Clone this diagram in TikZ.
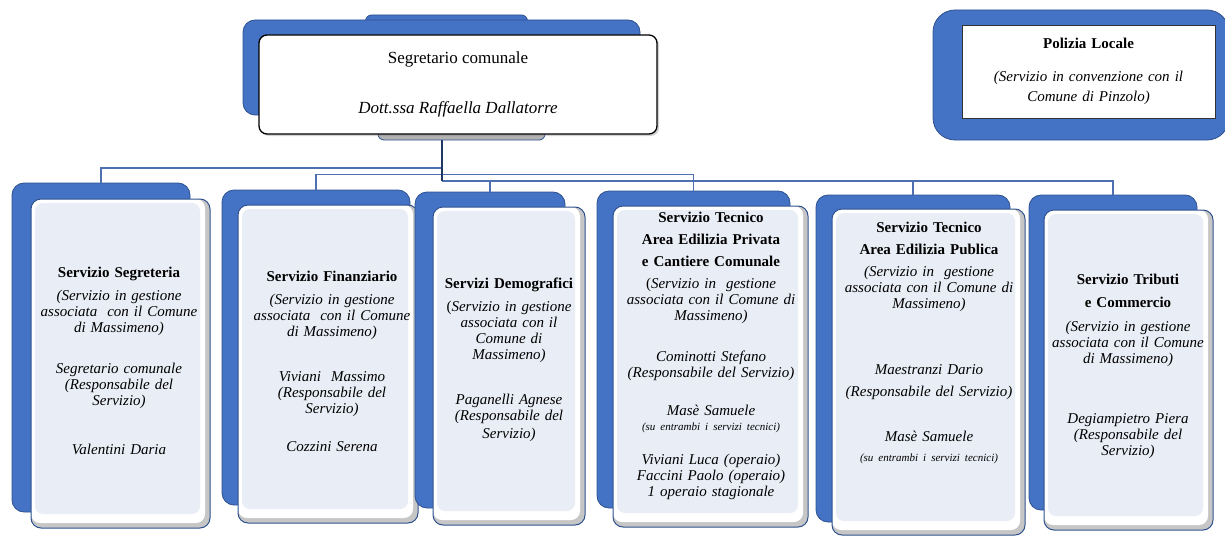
\documentclass[tikz,border=0pt]{standalone}
\usepackage{fontspec}
\setmainfont{Liberation Serif}
\usetikzlibrary{positioning,shadows}

\definecolor{ufficioblu}{HTML}{4472C4}
\definecolor{bordoblu}{HTML}{2F528F}
\definecolor{fondochiaro}{HTML}{E9EDF5}
\definecolor{lineablu}{HTML}{4E70B0}
\definecolor{lineascura}{HTML}{203864}

\begin{document}
\begin{tikzpicture}[x=1pt,y=-1pt,
  retro/.style={rectangle, draw=bordoblu, fill=ufficioblu, rounded corners=12pt, line width=0.8pt, inner sep=0pt},
  fronte/.style={rectangle, draw=bordoblu, fill=gray!45, rounded corners=10pt, line width=1pt, inner sep=0pt,
    path picture={
      \fill[white, rounded corners=9pt] (path picture bounding box.north west) rectangle ([shift={(-5pt,5pt)}]path picture bounding box.south east);
      \fill[fondochiaro, rounded corners=8pt] ([shift={(4pt,-4pt)}]path picture bounding box.north west) rectangle ([shift={(-10pt,14pt)}]path picture bounding box.south east);
    }},
  testo/.style={align=center, inner sep=0pt, text width=190pt, anchor=north, font=\fontsize{15}{16}\selectfont},
  collega/.style={draw=lineablu, line width=1.4pt},
  tronco/.style={draw=lineascura, line width=2pt}]

  \useasboundingbox (0,0) rectangle (1225,535);

  % segretario comunale
  \node[retro, rounded corners=6pt, minimum width=162pt, minimum height=24pt] (linguetta) at (446.5,27) {};
  \node[retro, minimum width=397pt, minimum height=95pt] (segretarioB) at (441.5,67.5) {};
  \node[retro, fill=gray!60, rounded corners=6pt, minimum width=167pt, minimum height=24pt] (piede) at (461.5,128) {};
  \node[rectangle, draw=black, fill=white, line width=1.3pt, rounded corners=8pt, minimum width=398pt, minimum height=99pt,
        align=center, font=\fontsize{17}{19}\selectfont, drop shadow={opacity=0.35, shadow xshift=2pt, shadow yshift=-2pt}]
        (segretario) at (458,84.5) {Segretario comunale\\[31pt]\textit{Dott.ssa Raffaella Dallatorre}};

  % polizia locale
  \node[retro, rounded corners=22pt, minimum width=296pt, minimum height=130pt] (poliziaB) at (1081,75) {};
  \node[rectangle, draw=black!80, fill=white, line width=0.8pt, minimum width=253pt, minimum height=93pt,
        align=center, text width=245pt, font=\fontsize{15}{20}\selectfont]
        (polizia) at (1088.5,71.5) {\textbf{Polizia Locale}\\[13pt]\textit{(Servizio in convenzione con il\\Comune di Pinzolo)}};

  % servizi
  \node[retro, minimum width=178pt, minimum height=329pt] (segreteriaB) at (101,347.5) {};
  \node[fronte, minimum width=179pt, minimum height=329pt] (segreteria) at (120.5,363.5) {};
  \node[testo] (segreteriaT) at (119,266.5) {\textbf{Servizio Segreteria}\\[7.5pt]
    \textit{(Servizio in gestione\\associata\ \ con il Comune\\di Massimeno)}\\[25pt]
    \textit{Segretario comunale\\(Responsabile del\\Servizio)}\\[33pt]
    \textit{Valentini Daria}};

  \node[retro, minimum width=188pt, minimum height=315pt] (finanziarioB) at (316,347.5) {};
  \node[fronte, minimum width=180pt, minimum height=318pt] (finanziario) at (328,364) {};
  \node[testo] (finanziarioT) at (332,270.5) {\textbf{Servizio Finanziario}\\[7pt]
    \textit{(Servizio in gestione\\associata\ \ con il Comune\\di Massimeno)}\\[29pt]
    \textit{Viviani\ \ Massimo\\(Responsabile del\\Servizio)}\\[22pt]
    \textit{Cozzini Serena}};

  \node[retro, minimum width=150pt, minimum height=316pt] (demograficiB) at (490,350) {};
  \node[fronte, minimum width=152pt, minimum height=318pt] (demografici) at (509,366) {};
  \node[testo] (demograficiT) at (509,277.5) {\textbf{Servizi Demografici}\\[7pt]
    (\textit{Servizio in gestione\\associata con il\\Comune di\\Massimeno)}\\[29pt]
    \textit{Paganelli Agnese\\(Responsabile del\\[2pt]Servizio)}};

  \node[retro, minimum width=193pt, minimum height=317pt] (tecnicoPrB) at (693.5,349.5) {};
  \node[fronte, minimum width=195pt, minimum height=321pt] (tecnicoPr) at (710.5,366.5) {};
  \node[testo] (tecnicoPrT) at (711,211.5) {\textbf{Servizio Tecnico\\[6pt]Area Edilizia Privata\\[6pt]e Cantiere Comunale}\\[6pt]
    (\textit{Servizio in\ \ gestione\\associata con il Comune di\\Massimeno)}\\[25pt]
    \textit{Cominotti Stefano\\(Responsabile del Servizio)}\\[22pt]
    \textit{Masè Samuele}\\[-1pt]
    {\fontsize{11}{12}\selectfont\textit{(su entrambi i servizi tecnici)}}\\[18pt]
    \textit{Viviani Luca (operaio)\\Faccini Paolo (operaio)\\1 operaio stagionale}};

  \node[retro, minimum width=194pt, minimum height=327pt] (tecnicoPuB) at (913,358.5) {};
  \node[fronte, minimum width=193pt, minimum height=326pt] (tecnicoPu) at (928.5,372) {};
  \node[testo] (tecnicoPuT) at (929,221.5) {\textbf{Servizio Tecnico\\[6pt]Area Edilizia Publica}\\[6pt]
    \textit{(Servizio in\ \ gestione\\associata con il Comune di\\Massimeno)}\\[50pt]
    \textit{Maestranzi Dario}\\[6pt]
    \textit{(Responsabile del Servizio)}\\[29pt]
    \textit{Masè Samuele}\\[4pt]
    {\fontsize{11}{12}\selectfont\textit{(su entrambi i servizi tecnici)}}};

  \node[retro, minimum width=168pt, minimum height=315pt] (tributiB) at (1113,352.5) {};
  \node[fronte, minimum width=169pt, minimum height=320pt] (tributi) at (1128.5,370) {};
  \node[testo] (tributiT) at (1128,273.5) {\textbf{Servizio Tributi\\[7pt]e Commercio}\\[8pt]
    \textit{(Servizio in gestione\\associata con il Comune\\di Massimeno)}\\[44pt]
    \textit{Degiampietro Piera\\(Responsabile del\\Servizio)}};

  % collegamenti
  \coordinate (radice) at (442,140);
  \draw[collega] (radice) ++(0,28) -| (segreteriaB.north);
  \draw[collega] (finanziarioB.north) -- ++(0,-15) -| (tecnicoPrB.north);
  \draw[collega] (radice) ++(0,41) -| (tributiB.north);
  \draw[collega] (demograficiB.north) -- ++(0,-11);
  \draw[collega] (tecnicoPuB.north) -- ++(0,-14);
  \draw[tronco] (radice) -- ++(0,41);
\end{tikzpicture}
\end{document}
